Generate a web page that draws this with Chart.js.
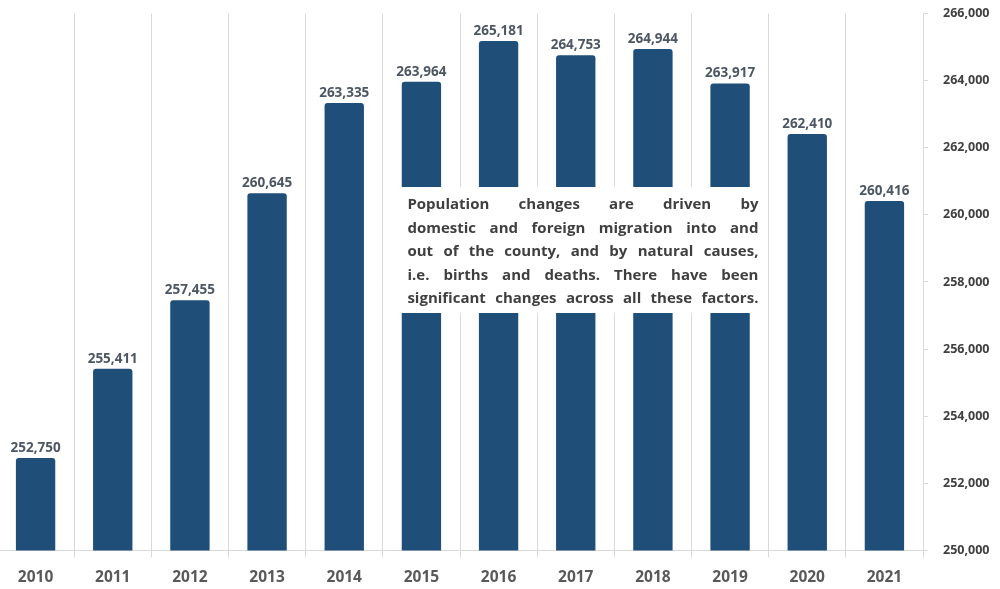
<!DOCTYPE html>
<html>
<head>
<meta charset="utf-8">
<script src="https://cdn.jsdelivr.net/npm/chart.js@4.4.0/dist/chart.umd.min.js"></script>
<style>
  html, body { margin: 0; padding: 0; background: #fff; overflow: hidden; }
  #wrap { position: absolute; left: -3px; top: -9px; width: 1003px; height: 611px; }
</style>
</head>
<body>
<div id="wrap"><canvas id="popChart"></canvas></div>
<script>
// Population by year
const years = ["2010", "2011", "2012", "2013", "2014", "2015", "2016", "2017", "2018", "2019", "2020", "2021"]
const population = [252750, 255411, 257455, 260645, 263335, 263964, 265181, 264753, 264944, 263917, 262410, 260416]
const yTicks = [250000, 252000, 254000, 256000, 258000, 260000, 262000, 264000, 266000]

const noteLines = [
  "Population changes are driven by",
  "domestic and foreign migration into and",
  "out of the county, and by natural causes,",
  "i.e. births and deaths. There have been",
  "significant changes across all these factors.",
]

const fmt = (n) => new Intl.NumberFormat("en-US").format(n)
const FONT = "'Open Sans', sans-serif"

// value labels above each bar
const barLabels = {
  id: "barLabels",
  afterDatasetsDraw(chart) {
    const ctx = chart.ctx
    const meta = chart.getDatasetMeta(0)
    ctx.save()
    ctx.font = "bold 13.5px " + FONT
    ctx.fillStyle = "#4d5763"
    ctx.textAlign = "center"
    ctx.textBaseline = "bottom"
    meta.data.forEach((bar, i) => {
      ctx.fillText(fmt(population[i]), bar.x, bar.y - 3)
    })
    ctx.restore()
  },
}

// white text box laid over the middle bars
const noteBox = {
  id: "noteBox",
  afterDraw(chart) {
    const ctx = chart.ctx
    const x = chart.scales.x
    const left = x.getPixelForValue(5) - 26
    const right = x.getPixelForValue(9) + 26
    const top = 196
    const bottom = 322
    ctx.save()
    ctx.fillStyle = "#ffffff"
    ctx.fillRect(left, top, right - left, bottom - top)
    ctx.font = "bold 15px " + FONT
    ctx.fillStyle = "#3f3f3f"
    ctx.textBaseline = "alphabetic"
    const tl = left + 12
    const tw = 351
    noteLines.forEach((line, i) => {
      const y = top + 22 + i * 23.5
      const words = line.split(" ")
      const wordsW = words.reduce((s, w) => s + ctx.measureText(w).width, 0)
      const gap = Math.max(2, (tw - wordsW) / (words.length - 1))
      let cx = tl
      words.forEach((w) => {
        ctx.fillText(w, cx, y)
        cx += ctx.measureText(w).width + gap
      })
    })
    ctx.restore()
  },
}

new Chart(document.getElementById("popChart"), {
  type: "bar",
  data: {
    labels: years,
    datasets: [
      {
        data: population,
        backgroundColor: "#1f4e79",
        borderRadius: { topLeft: 3, topRight: 3 },
        borderSkipped: "bottom",
        barPercentage: 0.51,
        categoryPercentage: 1,
      },
    ],
  },
  options: {
    responsive: true,
    maintainAspectRatio: false,
    animation: false,
    layout: { padding: { top: 0, left: 0, right: 0, bottom: 4 } },
    plugins: { legend: { display: false }, tooltip: { enabled: false } },
    scales: {
      x: {
        grid: { offset: true, color: "#d9d9d9", tickLength: 7 },
        border: { color: "#d9d9d9" },
        ticks: { color: "#595959", font: { family: FONT, size: 15.5, weight: "bold" }, padding: 11 },
      },
      y: {
        position: "right",
        min: 250000,
        max: 266000,
        afterBuildTicks: (axis) => {
          axis.ticks = yTicks.map((v) => ({ value: v }))
        },
        grid: { drawOnChartArea: false, color: "#d9d9d9", tickLength: 5 },
        border: { color: "#d9d9d9" },
        ticks: {
          color: "#404040",
          font: { family: FONT, size: 12.5, weight: "bold" },
          padding: 15,
          callback: (v) => fmt(v),
        },
        afterFit: (axis) => {
          axis.width = 77
        },
      },
    },
  },
  plugins: [barLabels, noteBox],
})
</script>
</body>
</html>
